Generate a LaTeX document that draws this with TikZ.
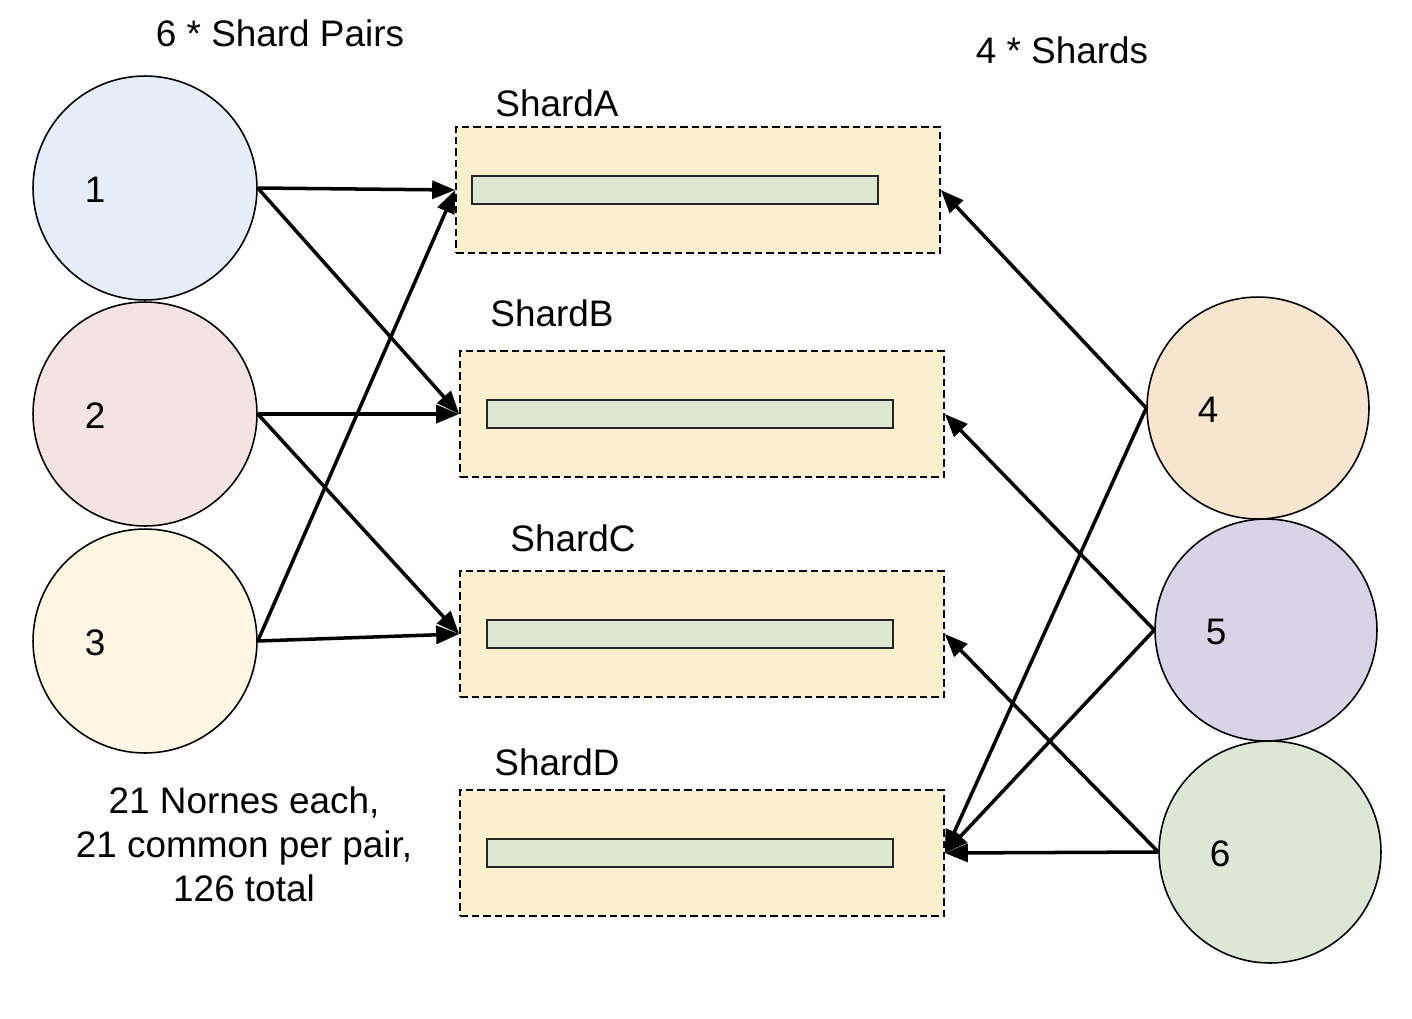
\documentclass[tikz,border=0pt]{standalone}
\usepackage{fontspec}
\setmainfont{Liberation Sans}
\usepackage{tikz}
\usetikzlibrary{math}
\usetikzlibrary{arrows.meta}
\usetikzlibrary{positioning}
\definecolor{pairone}{HTML}{E4EDF8}
\definecolor{pairtwo}{HTML}{F5E3E4}
\definecolor{pairthree}{HTML}{FEF5E2}
\definecolor{pairfour}{HTML}{F7E5D0}
\definecolor{pairfive}{HTML}{D8D3E7}
\definecolor{pairsix}{HTML}{DCE8D5}
\definecolor{shardfill}{HTML}{FBF0CE}
\definecolor{barfill}{HTML}{DDE8D4}

\begin{document}
\begin{tikzpicture}[x=0.02cm, y=-0.02cm, font=\fontsize{21}{25}\selectfont,
  pair/.style={circle, draw, line width=0.9pt, inner sep=0pt},
  shardbox/.style={draw, line width=1pt, dash pattern=on 0.15cm off 0.08cm, fill=shardfill,
    minimum width=9.68cm, minimum height=2.52cm, inner sep=0pt},
  bar/.style={draw=black!85, line width=1.1pt, fill=barfill,
    minimum width=8.12cm, minimum height=0.56cm, inner sep=0pt},
  conn/.style={line width=2pt, -{Triangle[length=0.46cm, width=0.36cm]}}]
  \tikzmath{
    \dl = 4.48;
    \dr = 4.44;
  }
  \useasboundingbox (0, 0) rectangle (1412, 1018);

  % headings
  \node at (280, 33) {6 * Shard Pairs};
  \node at (1062, 50) {4 * Shards};
  \node [align=center] at (244, 844) {21 Nornes each,\\21 common per pair,\\126 total};

  % shard pairs
  \foreach \n/\x/\y/\col in {1/145/188/pairone, 2/145/414/pairtwo, 3/145/641/pairthree} {
    \node [pair, fill=\col, minimum size=\dl cm, label={[xshift=-1cm, yshift=-0.03cm]center:\n}] (c\n) at (\x, \y) {};
  }
  \foreach \n/\x/\y/\col in {4/1258/408/pairfour, 5/1266/630/pairfive, 6/1270/852/pairsix} {
    \node [pair, fill=\col, minimum size=\dr cm, label={[xshift=-1cm, yshift=-0.03cm]center:\n}] (c\n) at (\x, \y) {};
  }

  % shards
  \foreach \s/\bx/\by/\rx/\tx/\ty in {A/698/190/675/557/103, B/702/414/690/552/313,
                                       C/702/634/690/573/538, D/702/853/690/557/762} {
    \node [shardbox] (sh\s) at (\bx, \by) {};
    \node [bar] (bar\s) at (\rx, \by) {};
    \node at (\tx, \ty) {Shard\s};
  }

  % links
  \draw [conn] (c1.east) -- (shA.west);
  \draw [conn] (c1.east) -- (shB.west);
  \draw [conn] (c2.east) -- (shB.west);
  \draw [conn] (c2.east) -- (shC.west);
  \draw [conn] (c3.east) -- (shC.west);
  \draw [conn] (c3.east) -- (shA.west);
  \draw [conn] (c4.west) -- (shA.east);
  \draw [conn] (c4.west) -- (shD.east);
  \draw [conn] (c5.west) -- (shB.east);
  \draw [conn] (c5.west) -- (shD.east);
  \draw [conn] (c6.west) -- (shC.east);
  \draw [conn] (c6.west) -- (shD.east);
\end{tikzpicture}
\end{document}
